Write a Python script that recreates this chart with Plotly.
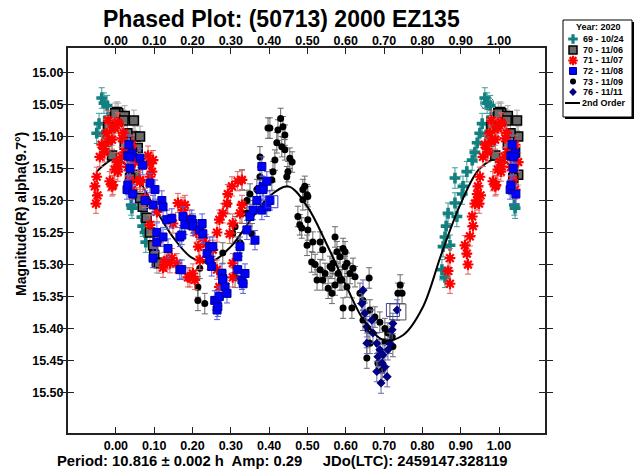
import plotly.graph_objects as go

# ---------------- data ----------------
x_tick_vals = [0.0, 0.1, 0.2, 0.3, 0.4, 0.5, 0.6, 0.7, 0.8, 0.9, 1.0]
x_tick_text = ["0.00", "0.10", "0.20", "0.30", "0.40", "0.50", "0.60", "0.70", "0.80", "0.90", "1.00"]
y_tick_vals = [15.00, 15.05, 15.10, 15.15, 15.20, 15.25, 15.30, 15.35, 15.40, 15.45, 15.50]
y_tick_text = ["15.00", "15.05", "15.10", "15.15", "15.20", "15.25", "15.30", "15.35", "15.40", "15.45", "15.50"]

s69_phase = [0.851, 0.859, 0.854, 0.872, 0.859, 0.862, 0.867, 0.890, 0.885, 0.885, 0.904, 0.906, 0.916,
             0.930, 0.937, 0.943, 0.950, 0.956, 0.963, 0.966, 0.969, 0.977, 0.980, 0.984, 0.992,
             0.040, 0.042, 0.055, 0.068, 0.070, 0.076, 0.078, 0.080, 0.072]
s69_mag = [15.308, 15.320, 15.272, 15.270, 15.257, 15.240, 15.220, 15.225, 15.204, 15.165, 15.190, 15.178, 15.155,
           15.137, 15.125, 15.110, 15.095, 15.080, 15.040, 15.098, 15.048, 15.052, 15.070, 15.108, 15.087,
           15.207, 15.212, 15.196, 15.226, 15.240, 15.250, 15.265, 15.235, 15.205]

s70_phase = [0.003, 0.006, 0.023, 0.023, 0.047, 0.050, 0.057, 0.063, 0.050, 0.063, 0.070, 0.080, 0.089,
             0.097, 0.100, 0.107, 0.112, 0.980, 0.990, 0.998, 0.020, 0.030, 0.042, 0.037]
s70_mag = [15.062, 15.064, 15.068, 15.113, 15.075, 15.100, 15.118, 15.100, 15.160, 15.196, 15.210, 15.227, 15.250,
           15.270, 15.285, 15.297, 15.298, 15.085, 15.130, 15.064, 15.075, 15.095, 15.125, 15.165]

s71_phase = [0.867, 0.872, 0.872, 0.911, 0.916, 0.919, 0.924, 0.930, 0.932, 0.937, 0.943, 0.943, 0.945, 0.950,
             0.952, 0.948, 0.958, 0.963, 0.969, 0.970, 0.976, 0.980, 0.980, 0.984, 0.990, 0.990, 0.992, 0.994,
             0.997, 0.997,
             0.005, 0.007, 0.016, 0.015, 0.020, 0.023, 0.003, 0.007, 0.031, 0.005, 0.037, 0.042, 0.042, 0.050,
             0.063, 0.063, 0.076, 0.084, 0.089, 0.089, 0.094, 0.097, 0.107, 0.089, 0.107, 0.123, 0.128, 0.133,
             0.141, 0.146, 0.149, 0.159, 0.162, 0.175, 0.180, 0.175, 0.193, 0.188, 0.201, 0.193, 0.206, 0.210,
             0.215, 0.219, 0.227, 0.235, 0.245, 0.253, 0.264, 0.264, 0.270, 0.270, 0.279, 0.290, 0.292, 0.297,
             0.303, 0.305, 0.305, 0.305, 0.318, 0.324, 0.329, 0.329]
s71_mag = [15.310, 15.330, 15.290, 15.270, 15.283, 15.300, 15.256, 15.225, 15.240, 15.205, 15.190, 15.200, 15.178, 15.163,
           15.192, 15.205, 15.132, 15.113, 15.120, 15.125, 15.095, 15.075, 15.108, 15.170, 15.105, 15.178, 15.176, 15.085,
           15.152, 15.087,
           15.078, 15.080, 15.103, 15.132, 15.095, 15.125, 15.140, 15.147, 15.148, 15.155, 15.168, 15.183, 15.113, 15.140,
           15.168, 15.171, 15.196, 15.130, 15.142, 15.163, 15.155, 15.137, 15.218, 15.238, 15.265, 15.305, 15.296, 15.293,
           15.298, 15.290, 15.236, 15.298, 15.204, 15.210, 15.207, 15.215, 15.230, 15.320, 15.314, 15.320, 15.324, 15.250,
           15.272, 15.293, 15.259, 15.268, 15.293, 15.277, 15.250, 15.308, 15.230, 15.335, 15.220, 15.205, 15.190, 15.252,
           15.178, 15.236, 15.298, 15.320, 15.170, 15.220, 15.168, 15.207]

s72_phase = [0.029, 0.031, 0.031, 0.034, 0.037, 0.042, 0.044, 0.037, 0.063, 0.070, 0.076, 0.089, 0.097, 0.097,
             0.102, 0.107, 0.107, 0.120, 0.123, 0.123, 0.133, 0.136, 0.146, 0.167, 0.167, 0.172, 0.172, 0.175,
             0.180, 0.198, 0.201, 0.201, 0.219, 0.225, 0.227, 0.238, 0.245, 0.245, 0.250, 0.253, 0.258, 0.264,
             0.264, 0.266, 0.270, 0.277, 0.279, 0.279, 0.285, 0.290, 0.318, 0.318, 0.324, 0.329, 0.332, 0.337,
             0.342, 0.350, 0.358, 0.363, 0.368, 0.376, 0.381, 0.381, 0.384, 0.394, 0.394, 0.402, 0.384]
s72_mag = [15.183, 15.130, 15.176, 15.113, 15.150, 15.127, 15.190, 15.132, 15.134, 15.145, 15.200, 15.173, 15.207, 15.290,
           15.183, 15.250, 15.265, 15.200, 15.210, 15.257, 15.230, 15.275, 15.228, 15.257, 15.308, 15.254, 15.308, 15.225,
           15.238, 15.230, 15.236, 15.240, 15.246, 15.236, 15.252, 15.283, 15.272, 15.293, 15.303, 15.272, 15.356, 15.356,
           15.371, 15.366, 15.350, 15.314, 15.322, 15.324, 15.335, 15.345, 15.288, 15.308, 15.272, 15.324, 15.330, 15.314,
           15.246, 15.225, 15.215, 15.262, 15.200, 15.183, 15.215, 15.147, 15.178, 15.170, 15.210, 15.200, 15.183]

s73_phase = [0.214, 0.214, 0.219, 0.232, 0.279, 0.292, 0.305, 0.311, 0.311, 0.324, 0.329, 0.329, 0.342, 0.342,
             0.350, 0.355, 0.368, 0.376, 0.376, 0.397, 0.402, 0.407, 0.410, 0.415, 0.420, 0.423, 0.430, 0.433,
             0.436, 0.441, 0.441, 0.446, 0.449, 0.454, 0.460, 0.475, 0.480, 0.485, 0.488, 0.488, 0.493, 0.499,
             0.501, 0.501, 0.501, 0.499, 0.511, 0.514, 0.520, 0.525, 0.533, 0.533, 0.540, 0.540, 0.546, 0.554,
             0.559, 0.564, 0.564, 0.567, 0.572, 0.572, 0.577, 0.580, 0.585, 0.585, 0.590, 0.593, 0.593, 0.598,
             0.598, 0.603, 0.603, 0.611, 0.616, 0.619, 0.624, 0.637, 0.645, 0.645, 0.655, 0.658, 0.661, 0.663,
             0.663, 0.676, 0.684, 0.689, 0.695, 0.702, 0.702, 0.710, 0.721, 0.723, 0.736, 0.742, 0.747]
s73_mag = [15.335, 15.356, 15.306, 15.361, 15.282, 15.205, 15.251, 15.241, 15.320, 15.266, 15.220, 15.168, 15.200, 15.220,
           15.190, 15.252, 15.183, 15.132, 15.163, 15.087, 15.087, 15.168, 15.155, 15.137, 15.110, 15.090, 15.072, 15.116,
           15.085, 15.098, 15.121, 15.163, 15.155, 15.134, 15.140, 15.225, 15.238, 15.243, 15.183, 15.199, 15.178, 15.191,
           15.194, 15.230, 15.246, 15.270, 15.296, 15.265, 15.300, 15.324, 15.265, 15.308, 15.277, 15.324, 15.314, 15.337,
           15.303, 15.306, 15.345, 15.298, 15.257, 15.332, 15.280, 15.314, 15.288, 15.324, 15.324, 15.275, 15.368, 15.280,
           15.303, 15.298, 15.335, 15.314, 15.368, 15.306, 15.319, 15.345, 15.356, 15.387, 15.446, 15.402, 15.321, 15.371,
           15.423, 15.382, 15.454, 15.390, 15.465, 15.400, 15.421, 15.407, 15.413, 15.428, 15.345, 15.332, 15.345]

s76_phase = [0.642, 0.645, 0.650, 0.655, 0.655, 0.668, 0.671, 0.681, 0.681, 0.684, 0.689, 0.692, 0.695, 0.697,
             0.702, 0.708, 0.710, 0.715, 0.721, 0.723, 0.734]
s76_mag = [15.361, 15.340, 15.376, 15.397, 15.423, 15.387, 15.407, 15.423, 15.467, 15.444, 15.433, 15.485, 15.454, 15.441,
           15.460, 15.475, 15.433, 15.423, 15.402, 15.392, 15.371]

# flagged points (open symbols)
flag_phase = [0.969, 0.736, 0.723, 0.407]
flag_mag = [15.048, 15.374, 15.371, 15.202]

# 2nd order fit curve
fit_phase = [-0.05, 0.00, 0.05, 0.10, 0.15, 0.20, 0.25, 0.30, 0.35, 0.40, 0.45, 0.50, 0.55,
             0.60, 0.65, 0.70, 0.75, 0.80, 0.85, 0.90, 0.95, 1.00, 1.05]
fit_mag = [15.155, 15.135, 15.160, 15.210, 15.258, 15.290, 15.295, 15.272, 15.232, 15.194, 15.178, 15.210, 15.268,
           15.332, 15.390, 15.418, 15.410, 15.368, 15.283, 15.205, 15.150, 15.135, 15.158]

series_names = ["69 - 10/24", "70 - 11/06", "71 - 11/07", "72 - 11/08", "73 - 11/09", "76 - 11/11"]
series_err = [0.016, 0.016, 0.015, 0.015, 0.016, 0.016]

# ---------------- helpers ----------------
W, H = 635, 470


def px(x):
    return x / W


def py(y):
    return 1 - y / H


def wrap(ph, mg):
    xs, ys = [], []
    for p, m in zip(ph, mg):
        xs.append(p); ys.append(m)
        if p <= 0.05:
            xs.append(p + 1); ys.append(m)
        if p >= 0.945:
            xs.append(p - 1); ys.append(m)
    return xs, ys


styles = {
    "69 - 10/24": dict(symbol="cross", size=9, color="#138080", line=dict(width=0), ecol="#3f9a9a"),
    "70 - 11/06": dict(symbol="square", size=9, color="#6a6a6a", line=dict(width=1.5, color="#000000"), ecol="#a8a8a8"),
    "71 - 11/07": dict(symbol="asterisk-open", size=9, color="#ff0000", line=dict(width=2.2, color="#ff0000"), ecol="#e06060"),
    "72 - 11/08": dict(symbol="square", size=8, color="#0000ff", line=dict(width=1, color="#0000a0"), ecol="#5a5ad8"),
    "73 - 11/09": dict(symbol="circle", size=7, color="#000000", line=dict(width=0), ecol="#6a6a6a"),
    "76 - 11/11": dict(symbol="diamond", size=7, color="#000080", line=dict(width=0), ecol="#6a6aa8"),
}

data_series = {
    "69 - 10/24": (s69_phase, s69_mag),
    "70 - 11/06": (s70_phase, s70_mag),
    "71 - 11/07": (s71_phase, s71_mag),
    "72 - 11/08": (s72_phase, s72_mag),
    "73 - 11/09": (s73_phase, s73_mag),
    "76 - 11/11": (s76_phase, s76_mag),
}

fig = go.Figure()


def add_series(name):
    ph, mg = data_series[name]
    xs, ys = wrap(ph, mg)
    st = styles[name]
    err = series_err[series_names.index(name)]
    fig.add_trace(go.Scatter(
        x=xs, y=ys, mode="markers", name=name, showlegend=False,
        marker=dict(symbol=st["symbol"], size=st["size"], color=st["color"], line=st["line"]),
        error_y=dict(type="constant", value=err, color=st["ecol"], thickness=1, width=3),
        xaxis="x", yaxis="y", cliponaxis=True,
    ))


add_series("69 - 10/24")
add_series("73 - 11/09")
add_series("76 - 11/11")
fig.add_trace(go.Scatter(x=fit_phase, y=fit_mag, mode="lines", line=dict(color="black", width=2, shape="spline"),
                         showlegend=False, xaxis="x", yaxis="y"))
add_series("70 - 11/06")
add_series("71 - 11/07")
add_series("72 - 11/08")

# flagged (open) markers
flag_styles = [("circle-cross-open", 13, "#138080"), ("square-open", 16, "#505050"),
               ("square-open", 13, "#4040a0"), ("square-open", 12, "#3030e0")]
for (sym, sz, col), fx, fy in zip(flag_styles, flag_phase, flag_mag):
    fig.add_trace(go.Scatter(x=[fx], y=[fy], mode="markers", showlegend=False,
                             marker=dict(symbol=sym, size=sz, color=col, line=dict(width=1, color=col)),
                             xaxis="x", yaxis="y"))

# ---------------- legend (drawn manually) ----------------
leg_rows = [39, 50, 60.5, 71, 81.5, 92]
leg_sym_x = 573
for name, ry in zip(series_names, leg_rows):
    st = styles[name]
    fig.add_trace(go.Scatter(x=[leg_sym_x], y=[ry], mode="markers", showlegend=False,
                             marker=dict(symbol=st["symbol"], size=st["size"] - 1, color=st["color"], line=st["line"]),
                             xaxis="x3", yaxis="y3", hoverinfo="skip"))
fig.add_trace(go.Scatter(x=[565, 580], y=[103, 103], mode="lines", showlegend=False,
                         line=dict(color="black", width=2), xaxis="x3", yaxis="y3", hoverinfo="skip"))

bold = dict(family="Liberation Sans, Arial, sans-serif", color="black", weight="bold")

annotations = [
    dict(text="Phased Plot: (50713) 2000 EZ135", x=px(281), y=py(19), xref="paper", yref="paper",
         showarrow=False, xanchor="center", yanchor="middle", font=dict(size=23, **bold)),
    dict(text="Magnitude(R) alpha(9.7°)", x=px(21), y=py(214), xref="paper", yref="paper", textangle=-90,
         showarrow=False, xanchor="center", yanchor="middle", font=dict(size=14, **bold)),
    dict(text="Period: 10.816 ± 0.002 h  Amp: 0.29     JDo(LTC): 2459147.328119", x=px(55), y=py(461),
         xref="paper", yref="paper", showarrow=False, xanchor="left", yanchor="middle",
         font=dict(size=14.8, **bold)),
    dict(text="Year: 2020", x=px(623), y=py(27), xref="paper", yref="paper", showarrow=False,
         xanchor="right", yanchor="middle", font=dict(size=9, **bold)),
]
for name, ry in zip(series_names, leg_rows):
    annotations.append(dict(text=name, x=px(581), y=py(ry), xref="paper", yref="paper", showarrow=False,
                            xanchor="left", yanchor="middle", font=dict(size=9, **bold)))
annotations.append(dict(text="2nd Order", x=px(580), y=py(103), xref="paper", yref="paper", showarrow=False,
                        xanchor="left", yanchor="middle", font=dict(size=9, **bold)))

shapes = [
    dict(type="rect", xref="paper", yref="paper", x0=px(565), x1=px(634), y0=py(119), y1=py(22),
         fillcolor="black", line=dict(width=0), layer="below"),
    dict(type="rect", xref="paper", yref="paper", x0=px(563), x1=px(632), y0=py(117), y1=py(20),
         fillcolor="white", line=dict(width=1, color="black"), layer="below"),
]

x_range = [-0.125, 1.12]
y_range = [15.563, 14.962]
tickfont = dict(size=12.5, **bold)

fig.update_layout(
    width=W, height=H, margin=dict(l=0, r=0, t=0, b=0),
    paper_bgcolor="white", plot_bgcolor="rgba(0,0,0,0)",
    showlegend=False,
    annotations=annotations, shapes=shapes,
    xaxis=dict(domain=[px(68), px(545)], range=x_range, tickvals=x_tick_vals, ticktext=x_tick_text,
               ticks="inside", ticklen=6, tickcolor="#222", tickwidth=1, showline=True, linecolor="#222",
               linewidth=2, mirror="allticks", showgrid=False, zeroline=False, tickfont=tickfont,
               anchor="y"),
    xaxis2=dict(overlaying="x", side="top", range=x_range, tickvals=x_tick_vals, ticktext=x_tick_text,
                ticks="", showline=False, showgrid=False, zeroline=False, tickfont=tickfont, anchor="y"),
    yaxis=dict(domain=[py(433), py(48)], range=y_range, tickvals=y_tick_vals, ticktext=y_tick_text,
               ticks="inside", ticklen=6, tickcolor="#222", tickwidth=1, showline=True, linecolor="#222",
               linewidth=2, mirror="allticks", showgrid=False, zeroline=False, tickfont=tickfont,
               anchor="x"),
    xaxis3=dict(domain=[0, 1], range=[0, W], visible=False, anchor="y3"),
    yaxis3=dict(domain=[0, 1], range=[H, 0], visible=False, anchor="x3"),
)
# dummy trace so xaxis2 is rendered
fig.add_trace(go.Scatter(x=[0.5], y=[15.3], mode="markers", marker=dict(opacity=0), xaxis="x2", yaxis="y",
                         showlegend=False, hoverinfo="skip"))

fig.write_html("out.html")
